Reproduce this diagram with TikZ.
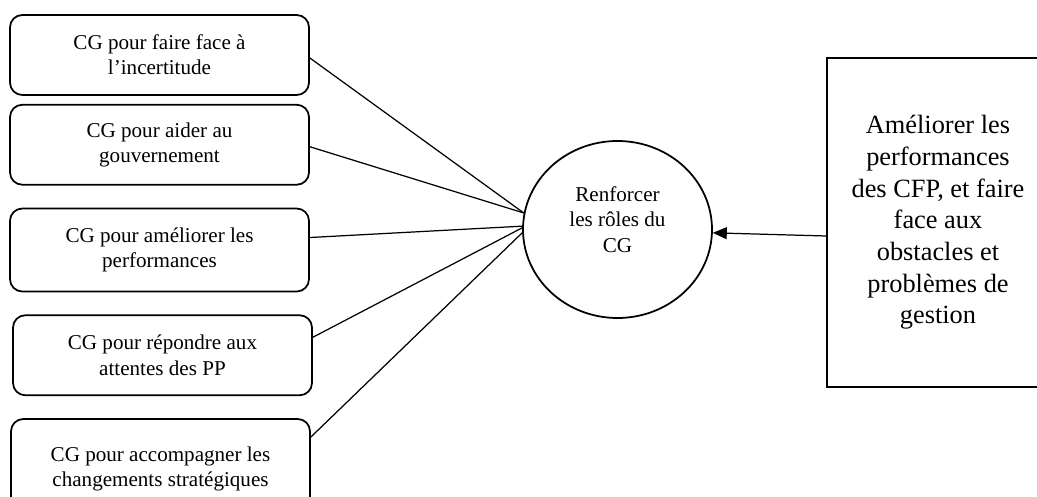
\documentclass[tikz,border=0pt]{standalone}
\usepackage{fontspec}
\setmainfont{Liberation Serif}
\usepackage{tikz}
\usetikzlibrary{arrows.meta, positioning, shapes.geometric}

\begin{document}
\begin{tikzpicture}[
    role/.style={draw, line width=1pt, rounded corners=7pt, minimum width=5.98cm, minimum height=#1, align=center, font=\fontsize{12}{14.4}\selectfont},
    role/.default=1.6cm,
    goal/.style={ellipse, draw, line width=1pt, minimum width=3.78cm, minimum height=3.54cm, inner sep=0pt, text depth=0.4cm, align=center, font=\fontsize{12}{14.4}\selectfont},
    issue/.style={draw, line width=1pt, minimum width=4.44cm, minimum height=6.58cm, align=center, font=\fontsize{15}{18}\selectfont},
    link/.style={line width=0.7pt},
    arr/.style={-{Triangle[length=0.28cm, width=0.24cm]}, line width=0.7pt},
  ]
  \useasboundingbox (0,0) rectangle (20.74,-9.94);

  % the five roles on the left
  \node[role] (b1) at (3.19,-1.10) {CG pour faire face à\\l’incertitude};
  \node[role, below=0.16cm of b1] (b2) {CG pour aider au\\gouvernement};
  \node[role=1.66cm, below=0.44cm of b2] (b3) {CG pour améliorer les\\performances};
  \node[role, below=0.44cm of b3, xshift=0.06cm] (b4) {CG pour répondre aux\\attentes des PP};
  \node[role=2cm, below=0.44cm of b4, xshift=-0.04cm] (b5) {CG pour accompagner les\\changements stratégiques};

  \node[goal] (cg) at (12.35,-4.59) {Renforcer\\les rôles du\\CG};

  \node[issue] (gest) at (18.76,-4.45) {Améliorer les\\performances\\des CFP, et faire\\face aux\\obstacles et\\problèmes de\\gestion};

  \draw[link] ([yshift=-0.06cm]b1.east) -- (cg.170);
  \draw[link] ([yshift=-0.04cm]b2.east) -- (cg.170);
  \draw[link] ([yshift=0.25cm]b3.east) -- (cg.178);
  \draw[link] ([yshift=0.36cm]b4.east) -- (cg.179);
  \draw[link] ([yshift=0.64cm]b5.east) -- (cg.182);

  \draw[arr] ([yshift=-0.27cm]gest.west) -- (cg.-2);
\end{tikzpicture}
\end{document}
